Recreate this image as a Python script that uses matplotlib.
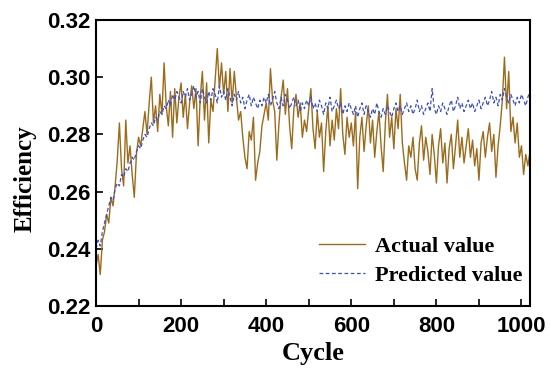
import numpy as np
import matplotlib
matplotlib.use("Agg")
import matplotlib.pyplot as plt
from matplotlib.ticker import MultipleLocator, FormatStrFormatter

cycles = np.arange(0, 1025, 5)

actual = [
    0.234, 0.238, 0.231, 0.243, 0.246, 0.252, 0.249, 0.258, 0.255, 0.262,
    0.271, 0.284, 0.268, 0.262, 0.285, 0.270, 0.276, 0.266, 0.258, 0.273,
    0.279, 0.276, 0.282, 0.288, 0.280, 0.291, 0.300, 0.284, 0.290, 0.281,
    0.294, 0.287, 0.305, 0.290, 0.283, 0.295, 0.279, 0.296, 0.284, 0.293,
    0.298, 0.286, 0.294, 0.282, 0.291, 0.297, 0.289, 0.296, 0.276, 0.293,
    0.302, 0.285, 0.298, 0.277, 0.292, 0.288, 0.299, 0.310, 0.296, 0.305,
    0.294, 0.302, 0.288, 0.303, 0.291, 0.302, 0.293, 0.285, 0.288, 0.279,
    0.272, 0.268, 0.281, 0.278, 0.286, 0.264, 0.270, 0.274, 0.283, 0.287,
    0.291, 0.285, 0.303, 0.292, 0.288, 0.271, 0.284, 0.293, 0.299, 0.287,
    0.296, 0.283, 0.275, 0.289, 0.294, 0.286, 0.291, 0.279, 0.285, 0.281,
    0.289, 0.296, 0.282, 0.275, 0.288, 0.279, 0.284, 0.267, 0.281, 0.290,
    0.276, 0.285, 0.278, 0.289, 0.282, 0.296, 0.280, 0.273, 0.286, 0.279,
    0.284, 0.276, 0.288, 0.261, 0.279, 0.286, 0.274, 0.283, 0.290, 0.277,
    0.285, 0.272, 0.281, 0.288, 0.276, 0.267, 0.284, 0.294, 0.279, 0.286,
    0.275, 0.289, 0.282, 0.294, 0.277, 0.270, 0.264, 0.276, 0.272, 0.279,
    0.268, 0.264, 0.277, 0.283, 0.271, 0.279, 0.274, 0.266, 0.280, 0.273,
    0.263, 0.276, 0.282, 0.270, 0.277, 0.263, 0.275, 0.280, 0.268, 0.276,
    0.285, 0.272, 0.279, 0.270, 0.276, 0.282, 0.272, 0.278, 0.269, 0.275,
    0.264, 0.277, 0.281, 0.272, 0.279, 0.284, 0.274, 0.280, 0.265, 0.276,
    0.283, 0.292, 0.307, 0.289, 0.302, 0.281, 0.286, 0.277, 0.284, 0.272,
    0.276, 0.266, 0.273, 0.269, 0.274,
]

predicted = [
    0.240, 0.243, 0.241, 0.246, 0.249, 0.252, 0.255, 0.258, 0.257, 0.261,
    0.263, 0.262, 0.266, 0.265, 0.268, 0.267, 0.270, 0.272, 0.271, 0.274,
    0.276, 0.275, 0.278, 0.280, 0.279, 0.282, 0.284, 0.283, 0.286, 0.285,
    0.288, 0.287, 0.290, 0.289, 0.292, 0.290, 0.294, 0.292, 0.295, 0.293,
    0.291, 0.295, 0.293, 0.296, 0.292, 0.294, 0.297, 0.293, 0.295, 0.291,
    0.296, 0.293, 0.291, 0.295, 0.292, 0.296, 0.294, 0.291, 0.297, 0.293,
    0.295, 0.292, 0.296, 0.293, 0.290, 0.294, 0.292, 0.295, 0.291, 0.293,
    0.289, 0.292, 0.294, 0.290, 0.293, 0.291, 0.289, 0.292, 0.290, 0.293,
    0.291, 0.294, 0.290, 0.292, 0.295, 0.291, 0.289, 0.293, 0.290, 0.294,
    0.292, 0.289, 0.291, 0.293, 0.290, 0.292, 0.288, 0.291, 0.289, 0.292,
    0.290, 0.293, 0.289, 0.291, 0.288, 0.292, 0.290, 0.287, 0.291, 0.289,
    0.293, 0.288, 0.290, 0.292, 0.289, 0.291, 0.287, 0.290, 0.288, 0.291,
    0.289, 0.287, 0.290, 0.286, 0.289, 0.291, 0.287, 0.290, 0.288, 0.286,
    0.289, 0.287, 0.291, 0.288, 0.286, 0.289, 0.287, 0.290, 0.288, 0.286,
    0.289, 0.291, 0.288, 0.290, 0.287, 0.289, 0.291, 0.288, 0.290, 0.287,
    0.289, 0.292, 0.288, 0.290, 0.287, 0.289, 0.291, 0.288, 0.296, 0.289,
    0.287, 0.290, 0.288, 0.291, 0.289, 0.287, 0.290, 0.292, 0.288, 0.290,
    0.293, 0.289, 0.291, 0.288, 0.290, 0.292, 0.289, 0.291, 0.288, 0.290,
    0.292, 0.289, 0.291, 0.293, 0.290, 0.292, 0.295, 0.291, 0.293, 0.290,
    0.294, 0.292, 0.296, 0.293, 0.291, 0.294, 0.292, 0.290, 0.293, 0.291,
    0.294, 0.292, 0.290, 0.293, 0.295,
]

labels = ["Actual value", "Predicted value"]

fig = plt.figure(figsize=(5.5, 3.8), dpi=100)
ax = fig.add_axes([96/550, 1-306/380, 434/550, 286/380])

ax.plot(cycles, actual, color="#9C6B1C", lw=1.0, label=labels[0])
ax.plot(cycles, predicted, color="#3C4FC8", lw=0.9, linestyle=(0, (3, 2)), label=labels[1])

ax.set_xlim(0, 1020)
ax.set_ylim(0.22, 0.32)
ax.xaxis.set_major_locator(MultipleLocator(200))
ax.xaxis.set_minor_locator(MultipleLocator(100))
ax.yaxis.set_major_locator(MultipleLocator(0.02))
ax.tick_params(axis="both", which="both", direction="in", top=False, right=False, width=1.2)
ax.tick_params(axis="both", which="major", length=5)
ax.tick_params(axis="x", which="minor", length=5)
ax.tick_params(axis="x", which="major", pad=7)
ax.tick_params(axis="y", which="major", pad=4)
ax.yaxis.set_major_formatter(FormatStrFormatter("%.2f"))
for lab in ax.get_xticklabels() + ax.get_yticklabels():
    lab.set_fontfamily("Liberation Sans")
    lab.set_fontweight("bold")
    lab.set_fontsize(16)
for s in ax.spines.values():
    s.set_linewidth(1.5)

ax.set_xlabel("Cycle", fontfamily="Liberation Serif", fontweight="bold", fontsize=19)
ax.set_ylabel("Efficiency", fontfamily="Liberation Serif", fontweight="bold", fontsize=18)
ax.xaxis.set_label_coords(0.5, -(342 - 306) / 286)
ax.yaxis.set_label_coords(-(96 - 37) / 434, (306 - 179) / 286)

ax.legend(loc="lower right", bbox_to_anchor=(1.014, 0.0225), frameon=False,
          prop={"family": "Liberation Serif", "weight": "bold", "size": 16},
          handlelength=2.1, handletextpad=0.45, labelspacing=0.38, borderaxespad=0.2)

fig.savefig("out.png", dpi=100)
